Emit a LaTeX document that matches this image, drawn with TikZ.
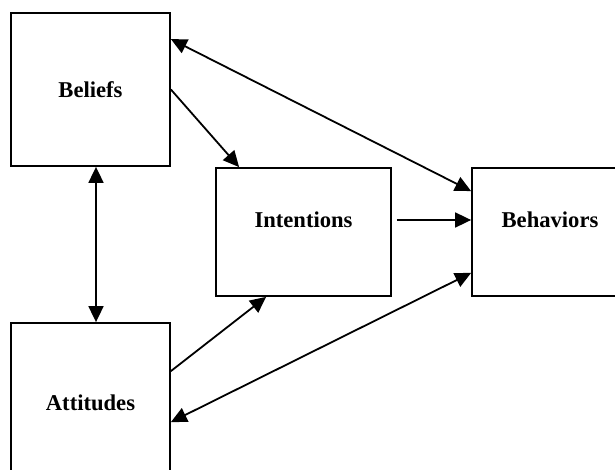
\documentclass[tikz,border=0pt]{standalone}
\usepackage{fontspec}
\setmainfont{Liberation Serif}
\usetikzlibrary{arrows.meta}

\begin{document}
\begin{tikzpicture}[x=0.5pt, y=-0.5pt, line width=0.9pt,
    >={Triangle[length=8pt, width=7.5pt]},
    box/.style={draw, rectangle, line width=0.9pt, font=\bfseries\fontsize{11.3}{13}\selectfont},
    every label/.style={font=\bfseries\fontsize{11.3}{13}\selectfont}]
   \clip (0,0) rectangle (615,470);

   \node[box, minimum width=79.5pt, minimum height=76.5pt] (beliefs) at (90.5,89.5) {Beliefs};
   \node[box, minimum width=79.5pt, minimum height=80pt] (attitudes) at (90.5,403) {Attitudes};
   \node[box, minimum width=87.5pt, minimum height=64pt,
         label={[yshift=6pt]center:Intentions}] (intentions) at (303.5,232) {};
   \node[box, minimum width=78pt, minimum height=64pt,
         label={[yshift=6pt]center:Behaviors}] (behaviors) at (550,232) {};

    \draw[<->] ([yshift=-13.5pt]beliefs.north east) -- ([yshift=-12pt]behaviors.north west);
    \draw[->] (beliefs.east) -- ([xshift=12pt]intentions.north west);
    \draw[->, shorten <=2.5pt] ([yshift=6pt]intentions.east) -- ([yshift=6pt]behaviors.west);
    \draw[<->] ([xshift=2.75pt]beliefs.south) -- ([xshift=2.75pt]attitudes.north);
    \draw[->] ([yshift=-24.5pt]attitudes.north east) -- ([xshift=25.5pt]intentions.south west);
    \draw[<->] ([yshift=-50pt]attitudes.north east) -- ([yshift=12pt]behaviors.south west);
\end{tikzpicture}
\end{document}
